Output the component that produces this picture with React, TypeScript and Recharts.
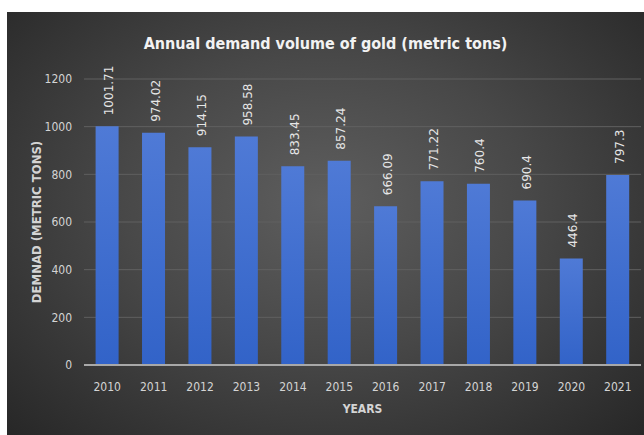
import { BarChart, Bar, XAxis, YAxis, CartesianGrid, LabelList } from 'recharts';

const YEARS = ['2010', '2011', '2012', '2013', '2014', '2015', '2016', '2017', '2018', '2019', '2020', '2021'];
const DEMAND = [1001.71, 974.02, 914.15, 958.58, 833.45, 857.24, 666.09, 771.22, 760.4, 690.4, 446.4, 797.3];
const Y_TICKS = [0, 200, 400, 600, 800, 1000, 1200];

const FONT = '"DejaVu Sans Condensed", "DejaVu Sans", sans-serif';
const TICK_STYLE = { fill: '#d4d4d4', fontSize: 12, fontFamily: FONT, fontStretch: 'condensed' };

const data = YEARS.map((year, i) => ({ year, demand: DEMAND[i] }));

function ValueLabel(props: any) {
  const { x, y, width, value } = props;
  const cx = x + width / 2 + 6;
  const cy = y - 11;
  return (
    <text
      x={cx}
      y={cy}
      transform={`rotate(-90 ${cx} ${cy})`}
      textAnchor="start"
      fill="#e6e6e6"
      fontSize={12}
      fontFamily='"DejaVu Sans", sans-serif'
    >
      {value}
    </text>
  );
}

export default function App() {
  return (
    <div
      style={{
        position: 'absolute', left: 7, top: 12, width: 637, height: 423,
        background: 'radial-gradient(ellipse at 50% 45%, #5e5e5e 0%, #484848 45%, #272727 100%)',
      }}
    >
      <div style={{
        position: 'absolute', top: 22, width: '100%', textAlign: 'center',
        color: '#f2f2f2', fontSize: 16, fontFamily: FONT, fontStretch: 'condensed', fontWeight: 'bold',
      }}>
        Annual demand volume of gold (metric tons)
      </div>
      <BarChart width={637} height={423} data={data} barCategoryGap="25%"
        margin={{ top: 67, right: 3, left: 24, bottom: 8 }}>
        <defs>
          <linearGradient id="barFill" x1="0" y1="0" x2="0" y2="1">
            <stop offset="0%" stopColor="#4f7ad6" />
            <stop offset="100%" stopColor="#3263c8" />
          </linearGradient>
        </defs>
        <CartesianGrid vertical={false} stroke="#606060" strokeWidth={1} />
        <XAxis dataKey="year" tick={TICK_STYLE} tickLine={false}
          axisLine={{ stroke: '#a8a8a8', strokeWidth: 2 }} tickMargin={11} height={62}
          label={{ value: 'YEARS', position: 'insideBottom', offset: 14, fill: '#d4d4d4',
            fontSize: 12, fontWeight: 'bold', fontFamily: FONT, fontStretch: 'condensed' }} />
        <YAxis domain={[0, 1200]} ticks={Y_TICKS} tick={TICK_STYLE} tickLine={false}
          axisLine={false} width={53} tickMargin={6}
          label={{ value: 'DEMNAD (METRIC TONS)', angle: -90, position: 'insideLeft', offset: 5,
            fill: '#d4d4d4', fontSize: 13, fontWeight: 'bold', fontFamily: FONT, fontStretch: 'condensed',
            style: { textAnchor: 'middle' } }} />
        <Bar dataKey="demand" fill="url(#barFill)" isAnimationActive={false}>
          <LabelList dataKey="demand" content={<ValueLabel />} />
        </Bar>
      </BarChart>
    </div>
  );
}
